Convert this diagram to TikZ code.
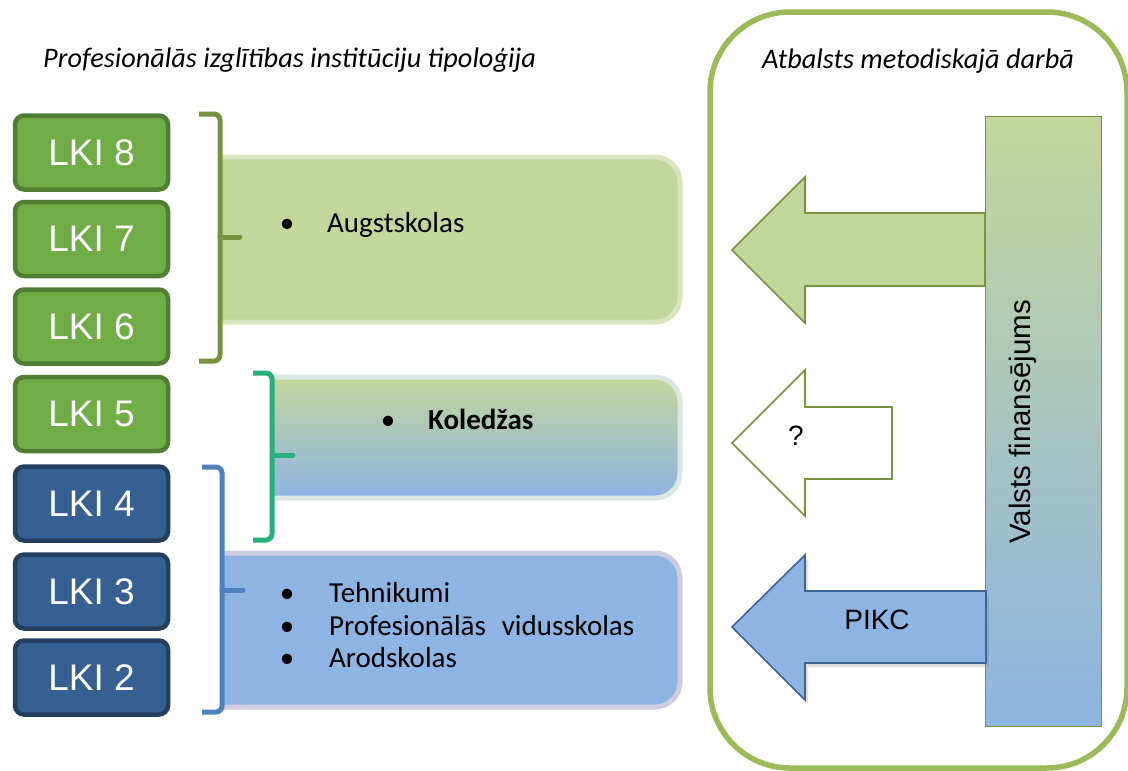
\documentclass[tikz,border=0pt]{standalone}
\usepackage{fontspec}
\setmainfont{Carlito}
\newfontfamily\arialf{Liberation Sans}
\usetikzlibrary{shadows}
\definecolor{lgreen}{HTML}{70AD47}
\definecolor{lgreenb}{HTML}{507E32}
\definecolor{lblue}{HTML}{376092}
\definecolor{lblueb}{HTML}{243F60}
\definecolor{bgreen}{HTML}{77933C}
\definecolor{bteal}{HTML}{26B07B}
\definecolor{bblue}{HTML}{4F81BD}
\definecolor{pgreen}{HTML}{C3D69B}
\definecolor{pgreenglow}{HTML}{D7E4BD}
\definecolor{pblue}{HTML}{8EB4E3}
\definecolor{pblueglow}{HTML}{D0CCE0}
\definecolor{pmixglow}{HTML}{D9E6E3}
\definecolor{frame}{HTML}{9BBB59}
\definecolor{arrblue}{HTML}{3A6596}
\tikzset{
  lki/.style={rounded corners=9pt, line width=4.5pt, minimum width=153pt, minimum height=74pt,
    inner sep=0pt, text=white, font=\arialf\fontsize{37}{40}\selectfont},
  lkig/.style={lki, fill=lgreen, draw=lgreenb},
  lkib/.style={lki, fill=lblue, draw=lblueb},
  brk/.style={line width=5pt, rounded corners=6pt},
  tick/.style={line width=5pt, line cap=round},
  itemtxt/.style={anchor=base west, inner sep=0pt, font=\fontsize{29}{33}\selectfont},
  bul/.style={anchor=base, inner sep=0pt, font=\fontsize{29}{33}\selectfont},
  ttl/.style={anchor=base west, inner sep=0pt, font=\itshape\fontsize{28.3}{31}\selectfont},
  bigarrow/.style={line width=1.6pt, line join=miter},
  arrtxt/.style={inner sep=0pt, font=\arialf\fontsize{28}{30}\selectfont}
}
\begin{document}
\begin{tikzpicture}[x=1pt,y=-1pt]
\useasboundingbox (0,0) rectangle (1128,771);
\fill[white] (0,0) rectangle (1128,771);

% titles
\node[ttl] (t1) at (43,67) {Profesionālās izglītības institūciju tipoloģija};

% content boxes
\begin{scope}
  \clip (220,0) rectangle (700,340);
  \draw[line width=5pt, draw=pgreenglow, fill=pgreen, rounded corners=25pt] (180,157) rectangle (680,322);
\end{scope}
\begin{scope}
  \clip (272,340) rectangle (700,520);
  \draw[line width=5pt, draw=pmixglow, top color=pgreen, bottom color=pblue, rounded corners=25pt] (230,377) rectangle (680,498);
\end{scope}
\begin{scope}
  \clip (222,530) rectangle (700,771);
  \draw[line width=5pt, draw=pblueglow, fill=pblue, rounded corners=25pt] (180,553) rectangle (680,707);
\end{scope}

% box texts
\node[bul] (b1) at (287,232) {•};
\node[itemtxt] (i1) at (327,232) {Augstskolas};
\node[bul] (b2) at (388,429) {•};
\node[itemtxt, font=\bfseries\fontsize{29}{33}\selectfont] (i2) at (428,429) {Koledžas};
\node[bul] (b3) at (287,602) {•};
\node[itemtxt] (i3) at (329,602) {Tehnikumi};
\node[bul] (b4) at (287,635) {•};
\node[itemtxt] (i4) at (329,635) {Profesionālās\hspace{0.55em}vidusskolas};
\node[bul] (b5) at (287,667) {•};
\node[itemtxt] (i5) at (329,667) {Arodskolas};

% LKI boxes
\node[lkig] (k8) at (91.5,152.5) {LKI 8};
\node[lkig] (k7) at (91.5,239) {LKI 7};
\node[lkig] (k6) at (91.5,326.5) {LKI 6};
\node[lkig] (k5) at (91.5,414) {LKI 5};
\node[lkib] (k4) at (91.5,503.5) {LKI 4};
\node[lkib] (k3) at (91.5,591.5) {LKI 3};
\node[lkib] (k2) at (91.5,677.5) {LKI 2};

% brackets
\draw[brk, draw=bgreen] (199,114) -- (220,114) -- (220,361) -- (199,361);
\draw[tick, draw=bgreen] (220,237) -- (240,237);
\draw[brk, draw=bteal] (253,373) -- (272,373) -- (272,540) -- (253,540);
\draw[tick, draw=bteal] (272,455) -- (293,455);
\draw[brk, draw=bblue] (202,467) -- (222,467) -- (222,712) -- (202,712);
\draw[tick, draw=bblue] (222,590) -- (243,590);

% right frame
\draw[line width=5.5pt, draw=frame, rounded corners=80pt] (710,12) rectangle (1127,768);
\node[ttl] (t2) at (762,68) {Atbalsts metodiskajā darbā};

% arrows
\draw[bigarrow, draw=bgreen, fill=pgreen] (985,213) -- (805,213) -- (805,177) -- (732,250) -- (805,323) -- (805,286) -- (985,286) -- cycle;
\draw[bigarrow, draw=bgreen, fill=white] (892,407) -- (805,407) -- (805,370) -- (732,443) -- (805,516) -- (805,479) -- (892,479) -- cycle;
\node[arrtxt] (q) at (796,436) {?};

% bar
\node[draw=bgreen, line width=1.6pt, top color=pgreen, bottom color=pblue, minimum width=116pt, minimum height=610pt, inner sep=0pt] (bar) at (1043.5,421.5) {};
\node[rotate=90, inner sep=0pt, font=\arialf\fontsize{29.5}{32}\selectfont] (bart) at (1023,422) {Valsts finansējums};

\draw[bigarrow, draw=arrblue, fill=pblue, drop shadow={shadow xshift=3pt, shadow yshift=-4pt, opacity=0.25}] (986,591) -- (805,591) -- (805,555) -- (732,627) -- (805,700) -- (805,663) -- (986,663) -- cycle;
\node[arrtxt] (pikc) at (877,620) {PIKC};
\end{tikzpicture}
\end{document}
